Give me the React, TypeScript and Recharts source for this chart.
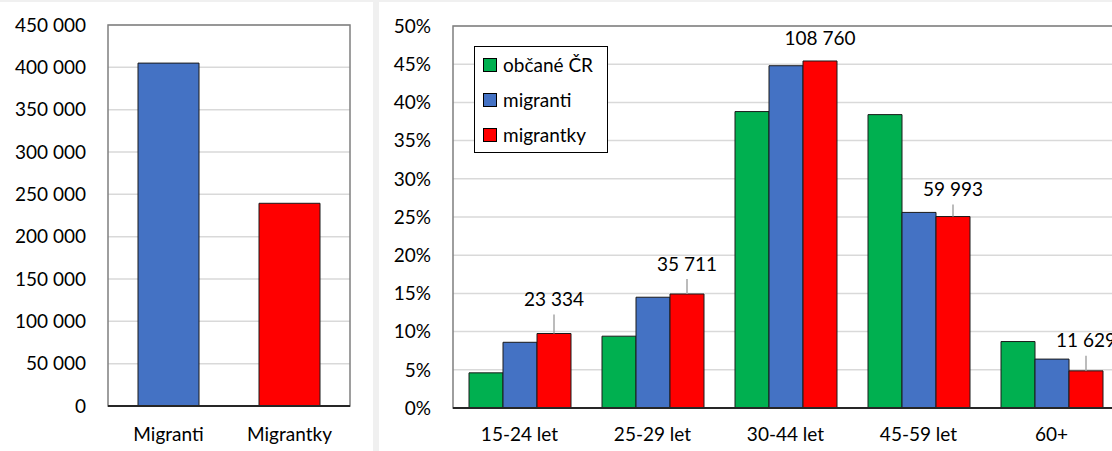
import React from "react";
import {
  BarChart,
  Bar,
  Cell,
  XAxis,
  YAxis,
  CartesianGrid,
  LabelList,
  ReferenceArea,
} from "recharts";

// left panel: total counts
const totalCategories = ["Migranti", "Migrantky"];
const totalValues = [405000, 239427];
const totalTicks = [0, 50000, 100000, 150000, 200000, 250000, 300000, 350000, 400000, 450000];

// right panel: share by age group (%)
const ageGroups = ["15-24 let", "25-29 let", "30-44 let", "45-59 let", "60+"];
const citizensShare = [4.6, 9.4, 38.8, 38.4, 8.7];
const migrantsShare = [8.6, 14.5, 44.8, 25.6, 6.4];
const migrantkyShare = [9.75, 14.92, 45.42, 25.06, 4.86];
const migrantkyCount = [23334, 35711, 108760, 59993, 11629];
const shareTicks = [0, 5, 10, 15, 20, 25, 30, 35, 40, 45, 50];

const seriesNames = ["občané ČR", "migranti", "migrantky"];

const GREEN = "#00B050";
const BLUE = "#4472C4";
const RED = "#FF0000";
const FONT = "Lato, 'Open Sans', sans-serif";
const FS = 19;

// how far above the bar the count label sits (Excel placed them by hand)
const LABEL_LIFT = [35, 31, 23, 28, 31];

const fmtSpace = (v: number) =>
  String(v).replace(/\B(?=(\d{3})+(?!\d))/g, " ");

const tickStyle = { fill: "#000", fontSize: FS, fontFamily: FONT };

const totalData = totalCategories.map((name, i) => ({
  name,
  value: totalValues[i],
}));

const shareData = ageGroups.map((name, i) => ({
  name,
  citizens: citizensShare[i],
  migrants: migrantsShare[i],
  migrantky: migrantkyShare[i],
  count: migrantkyCount[i],
}));

const CountLabel = (props: any) => {
  const { x, y, width, value, index } = props;
  const cx = Number(x) + Number(width) / 2;
  const top = Number(y);
  const lift = LABEL_LIFT[index] ?? 30;
  const lineLen = lift - 16;
  return (
    <g>
      {lineLen > 8 && (
        <line x1={cx} x2={cx} y1={top} y2={top - lineLen} stroke="#a6a6a6" strokeWidth={1.5} />
      )}
      <text
        x={cx}
        y={top - lift}
        textAnchor="middle"
        dominantBaseline="central"
        fill="#000"
        fontSize={FS}
        fontFamily={FONT}
      >
        {fmtSpace(value)}
      </text>
    </g>
  );
};

const legendColors = [GREEN, BLUE, RED];

const LegendBox = () => (
  <div
    style={{
      position: "absolute",
      left: 474,
      top: 46,
      border: "1.5px solid #000",
      background: "#fff",
      width: 134,
      height: 107,
      boxSizing: "border-box",
      paddingTop: 0,
    }}
  >
    {seriesNames.map((n, i) => (
      <div
        key={n}
        style={{
          display: "flex",
          alignItems: "center",
          height: 35,
          paddingLeft: 8,
          fontFamily: FONT,
          fontSize: FS,
          color: "#000",
        }}
      >
        <span
          style={{
            display: "inline-block",
            width: 12,
            height: 12,
            background: legendColors[i],
            border: "1px solid #000",
            marginRight: 6,
          }}
        />
        {n}
      </div>
    ))}
  </div>
);

export default function App() {
  return (
    <div
      style={{
        position: "absolute",
        left: 0,
        top: 0,
        width: 1112,
        height: 451,
        overflow: "hidden",
        background: "#fff",
        fontFamily: FONT,
      }}
    >
      <div style={{ position: "absolute", left: 0, top: 0, width: 1112, height: 2, background: "#f0f0f0" }} />
      <div style={{ position: "absolute", left: 373, top: 0, width: 6, height: 451, background: "#f0f0f0" }} />

      <div style={{ position: "absolute", left: 0, top: 0 }}>
        <BarChart
          width={372}
          height={451}
          data={totalData}
          margin={{ top: 25, right: 22, bottom: 0, left: 0 }}
        >
          <CartesianGrid vertical={false} stroke="#d9d9d9" strokeWidth={1.5} />
          <ReferenceArea y1={0} y2={450000} fill="none" stroke="#7f7f7f" strokeWidth={1.5} />
          <XAxis
            dataKey="name"
            height={45}
            tickLine={false}
            tickSize={0}
            tickMargin={22}
            axisLine={{ stroke: "#262626", strokeWidth: 2 }}
            tick={tickStyle}
          />
          <YAxis
            width={108}
            domain={[0, 450000]}
            ticks={totalTicks}
            interval={0}
            tickLine={false}
            tickSize={0}
            tickMargin={22}
            axisLine={false}
            tickFormatter={fmtSpace}
            tick={tickStyle}
          />
          <Bar dataKey="value" barSize={61} stroke="#1a1a1a" strokeWidth={1} isAnimationActive={false}>
            {totalData.map((d, i) => (
              <Cell key={d.name} fill={i === 0 ? BLUE : RED} />
            ))}
          </Bar>
        </BarChart>
      </div>

      <div style={{ position: "absolute", left: 379, top: 0 }}>
        <BarChart
          width={741}
          height={451}
          data={shareData}
          barGap={0}
          barCategoryGap={16}
          margin={{ top: 26, right: 2, bottom: 0, left: 0 }}
        >
          <CartesianGrid vertical={false} stroke="#d9d9d9" strokeWidth={1.5} />
          <ReferenceArea y1={0} y2={50} fill="none" stroke="#7f7f7f" strokeWidth={1.5} />
          <XAxis
            dataKey="name"
            height={43}
            tickLine={false}
            tickSize={0}
            tickMargin={20}
            axisLine={{ stroke: "#262626", strokeWidth: 2 }}
            tick={tickStyle}
          />
          <YAxis
            width={74}
            domain={[0, 50]}
            ticks={shareTicks}
            interval={0}
            tickLine={false}
            tickSize={0}
            tickMargin={22}
            axisLine={false}
            tickFormatter={(v: number) => `${v}%`}
            tick={tickStyle}
          />
          <Bar dataKey="citizens" name={seriesNames[0]} fill={GREEN} stroke="#1a1a1a" strokeWidth={1} isAnimationActive={false} />
          <Bar dataKey="migrants" name={seriesNames[1]} fill={BLUE} stroke="#1a1a1a" strokeWidth={1} isAnimationActive={false} />
          <Bar dataKey="migrantky" name={seriesNames[2]} fill={RED} stroke="#1a1a1a" strokeWidth={1} isAnimationActive={false}>
            <LabelList dataKey="count" content={CountLabel} />
          </Bar>
        </BarChart>
      </div>

      <LegendBox />
    </div>
  );
}
